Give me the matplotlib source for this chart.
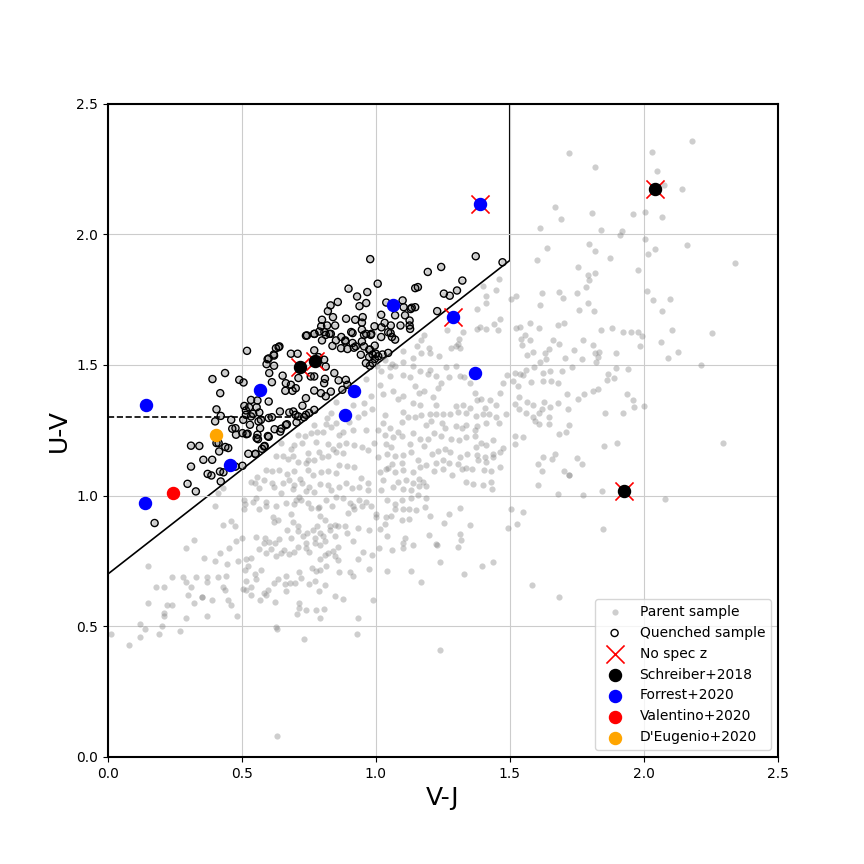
import numpy as np
import matplotlib
matplotlib.use("Agg")
import matplotlib.pyplot as plt

# UVJ diagram: parent sample, quenched subset and literature objects

# parent-only galaxies (V-J, U-V), region by region
parent_low_left = [
    (0.43, 1.03), (0.41, 1.01), (0.40, 0.96),
    (1.10, 0.82), (1.14, 0.81), (1.23, 0.81), (0.32, 0.83), (0.29, 0.80),
    (0.36, 0.76), (0.40, 0.75), (1.01, 0.80), (1.04, 0.71), (1.06, 0.79), (1.10, 0.80), (1.13, 0.71),
    (1.17, 0.67),
    (0.24, 0.69), (0.28, 0.69), (0.29, 0.67), (0.33, 0.69), (0.37, 0.69), (0.37, 0.67), (0.41, 0.69),
    (0.21, 0.65), (0.31, 0.65),
    (0.15, 0.73), (0.18, 0.65), (0.15, 0.59), (0.22, 0.58), (0.24, 0.58), (0.21, 0.55), (0.21, 0.54),
    (0.29, 0.53), (0.30, 0.62), (0.32, 0.59), (0.35, 0.61), (0.35, 0.61), (0.37, 0.54), (0.39, 0.60),
    (0.12, 0.51), (0.12, 0.46), (0.14, 0.49), (0.19, 0.47), (0.20, 0.50), (0.27, 0.48), (0.08, 0.43),
    (0.01, 0.47), (0.63, 0.49), (0.73, 0.45), (0.93, 0.47), (1.24, 0.41), (0.63, 0.08),
]

parent_box_a = [
    (0.851, 1.36), (0.913, 1.347), (0.956, 1.353), (0.832, 1.315), (0.816, 1.296), (0.77, 1.27),
    (0.813, 1.274), (0.832, 1.264), (0.853, 1.279), (0.9, 1.283), (0.932, 1.302), (0.956, 1.318),
    (0.779, 1.245), (0.801, 1.245), (0.863, 1.232), (0.876, 1.245), (0.913, 1.251), (0.963, 1.251),
    (0.708, 1.232), (0.736, 1.228), (0.757, 1.238), (0.776, 1.206), (0.726, 1.203), (0.695, 1.194),
    (0.683, 1.177), (0.646, 1.2), (0.745, 1.162), (0.789, 1.168), (0.823, 1.198), (0.841, 1.177),
    (0.863, 1.194), (0.888, 1.2), (0.919, 1.194), (0.95, 1.187), (0.969, 1.175), (0.851, 1.168),
    (0.878, 1.162), (0.82, 1.152), (0.799, 1.146), (0.77, 1.136), (0.745, 1.136), (0.739, 1.124),
    (0.708, 1.13), (0.689, 1.152), (0.672, 1.139), (0.652, 1.152), (0.629, 1.152), (0.59, 1.098),
    (0.614, 1.095), (0.637, 1.098), (0.67, 1.083), (0.695, 1.095), (0.716, 1.062), (0.745, 1.098),
    (0.764, 1.079), (0.795, 1.092), (0.823, 1.095), (0.851, 1.085), (0.863, 1.117), (0.891, 1.113),
    (0.919, 1.111), (0.944, 1.066), (0.969, 1.047), (0.534, 1.053), (0.558, 1.072), (0.55, 1.049),
    (0.583, 1.06), (0.614, 1.049), (0.652, 1.047), (0.677, 1.06), (0.695, 1.041), (0.726, 1.049),
    (0.751, 1.031), (0.77, 1.015), (0.791, 1.044), (0.82, 1.041), (0.833, 1.022), (0.863, 1.032),
    (0.888, 1.047), (0.91, 1.028), (0.938, 1.032), (0.969, 1.022), (0.565, 1.028), (0.62, 1.032),
    (0.646, 1.011), (0.689, 1.024), (0.714, 0.996), (0.739, 1.019), (0.851, 0.993), (0.876, 0.99),
    (0.509, 0.983), (0.552, 0.99), (0.59, 0.977), (0.627, 0.96), (0.664, 0.973), (0.701, 0.983),
    (0.745, 0.97), (0.789, 0.958), (0.813, 0.983), (0.838, 0.96), (0.913, 0.96), (0.938, 0.983),
    (0.963, 0.977), (0.963, 1.446), (0.981, 1.38), (0.985, 1.331), (0.994, 1.20),
]

parent_box_b = [
    (0.51, 0.966), (0.541, 0.975), (0.591, 0.959), (0.563, 0.947), (0.506, 0.947), (0.616, 0.919),
    (0.635, 0.906), (0.618, 0.898), (0.684, 0.928), (0.69, 0.898), (0.709, 0.885), (0.693, 0.966),
    (0.721, 0.985), (0.759, 0.953), (0.784, 0.953), (0.792, 0.921), (0.78, 0.885), (0.812, 0.908),
    (0.827, 0.885), (0.846, 0.889), (0.858, 0.883), (0.896, 0.934), (0.904, 0.97), (0.92, 0.947),
    (0.949, 0.959), (0.983, 0.962), (1.0, 0.928), (0.883, 0.883), (0.892, 0.855), (0.914, 0.825),
    (0.933, 0.877), (0.83, 0.87), (0.846, 0.845), (0.802, 0.845), (0.765, 0.87), (0.79, 0.855),
    (0.771, 0.838), (0.743, 0.857), (0.728, 0.845), (0.709, 0.864), (0.74, 0.819), (0.684, 0.838),
    (0.668, 0.87), (0.64, 0.834), (0.622, 0.819), (0.601, 0.821), (0.581, 0.819), (0.553, 0.842),
    (0.587, 0.838), (0.501, 0.838), (0.479, 0.825), (0.452, 0.8), (0.473, 0.885), (0.46, 0.902),
    (0.429, 0.889), (0.417, 0.781), (0.444, 0.74), (0.485, 0.749), (0.516, 0.758), (0.535, 0.762),
    (0.522, 0.732), (0.51, 0.714), (0.563, 0.794), (0.609, 0.794), (0.591, 0.781), (0.628, 0.768),
    (0.647, 0.781), (0.657, 0.791), (0.675, 0.778), (0.693, 0.783), (0.709, 0.804), (0.738, 0.8),
    (0.75, 0.783), (0.771, 0.819), (0.79, 0.809), (0.812, 0.825), (0.821, 0.781), (0.84, 0.787),
    (0.858, 0.804), (0.846, 0.768), (0.812, 0.771), (0.79, 0.758), (0.762, 0.723), (0.792, 0.717),
    (0.777, 0.71), (0.815, 0.73), (0.858, 0.755), (0.862, 0.707), (0.902, 0.707), (0.914, 0.692),
    (0.933, 0.758), (0.951, 0.783), (0.986, 0.774), (0.976, 0.719), (0.991, 0.6), (0.879, 0.605),
    (0.846, 0.615), (0.812, 0.656), (0.771, 0.672), (0.786, 0.634), (0.752, 0.66), (0.721, 0.685),
    (0.713, 0.707), (0.7, 0.666), (0.665, 0.692), (0.66, 0.66), (0.68, 0.666), (0.665, 0.634),
    (0.634, 0.679), (0.618, 0.666), (0.597, 0.64), (0.581, 0.627), (0.572, 0.717), (0.553, 0.679),
    (0.547, 0.698), (0.535, 0.651), (0.514, 0.672), (0.516, 0.64), (0.504, 0.643), (0.535, 0.618),
    (0.566, 0.602), (0.591, 0.621), (0.622, 0.592), (0.705, 0.545), (0.713, 0.57), (0.713, 0.589),
    (0.738, 0.564), (0.777, 0.564), (0.808, 0.567), (0.79, 0.532), (0.481, 0.541), (0.46, 0.583),
    (0.448, 0.602), (0.435, 0.64), (0.429, 0.651), (0.441, 0.691), (0.933, 0.53), (0.626, 0.498),
]

parent_box_c = [
    (1.034, 1.308), (1.10, 1.32), (1.121, 1.299), (1.146, 1.301), (1.17, 1.308), (1.201, 1.311),
    (1.224, 1.314), (1.251, 1.314), (1.276, 1.311), (1.307, 1.32), (1.338, 1.317), (1.373, 1.304),
    (1.40, 1.311), (1.423, 1.314), (1.45, 1.301), (1.485, 1.311), (1.025, 1.278), (1.052, 1.257),
    (1.096, 1.282), (1.189, 1.269), (1.207, 1.286), (1.246, 1.276), (1.298, 1.265), (1.323, 1.26),
    (1.338, 1.269), (1.376, 1.265), (1.413, 1.276), (1.46, 1.278), (1.37, 1.25), (1.257, 1.257),
    (1.034, 1.231), (1.065, 1.225), (1.083, 1.244), (1.099, 1.227), (1.139, 1.24), (1.164, 1.218),
    (1.195, 1.218), (1.216, 1.24), (1.245, 1.227), (1.279, 1.218), (1.311, 1.212), (1.336, 1.225),
    (1.37, 1.227), (1.394, 1.202), (1.413, 1.193), (1.438, 1.214), (1.473, 1.184), (1.519, 1.227),
    (1.519, 1.199), (1.037, 1.199), (1.058, 1.186), (1.127, 1.199), (1.178, 1.189), (1.211, 1.161),
    (1.233, 1.171), (1.259, 1.18), (1.276, 1.167), (1.313, 1.148), (1.341, 1.158), (1.373, 1.186),
    (1.378, 1.154), (1.406, 1.148), (1.438, 1.161), (1.463, 1.167), (1.009, 1.25), (1.009, 1.148),
    (1.04, 1.161), (1.071, 1.151), (1.102, 1.154), (1.133, 1.167), (1.159, 1.138), (1.189, 1.116),
    (1.224, 1.123), (1.249, 1.135), (1.274, 1.123), (1.307, 1.12), (1.338, 1.107), (1.382, 1.135),
    (1.41, 1.129), (1.438, 1.148), (1.096, 1.125), (1.062, 1.12), (1.046, 1.107), (1.015, 1.091),
    (1.037, 1.10), (1.071, 1.091), (1.102, 1.097), (1.139, 1.091), (1.164, 1.11), (1.216, 1.094),
    (1.249, 1.10), (1.285, 1.078), (1.32, 1.10), (1.358, 1.10), (1.403, 1.097), (1.429, 1.094),
    (1.463, 1.11), (1.025, 1.059), (1.065, 1.033), (1.083, 1.052), (1.102, 1.027), (1.114, 1.059),
    (1.139, 1.048), (1.162, 1.065), (1.177, 1.052), (1.162, 1.036), (1.189, 1.036), (1.133, 1.02),
    (1.159, 1.001), (1.189, 0.992), (1.336, 1.052), (1.361, 1.043), (1.40, 1.04), (1.431, 1.052),
    (1.434, 1.027), (1.021, 1.02), (1.04, 0.985), (1.096, 0.985), (1.133, 0.989), (1.071, 0.969),
    (1.071, 0.95), (1.102, 0.95), (1.125, 0.95), (1.149, 0.946), (1.183, 0.957), (1.316, 0.954),
    (1.506, 0.95), (1.201, 0.921), (1.254, 0.895), (1.274, 0.929), (1.037, 0.918), (1.055, 0.921),
    (1.096, 0.906), (1.125, 0.912), (1.034, 0.89), (1.351, 0.886), (1.494, 0.877), (1.527, 0.89),
    (0.975, 0.87), (1.04, 0.844), (1.108, 0.839), (1.199, 0.848), (1.313, 0.854), (1.015, 0.874),
    (1.002, 0.918),
]

parent_mid = [
    # V-J 1.0-1.5, U-V 1.33-1.85
    (1.46, 1.829), (1.40, 1.801), (1.413, 1.765), (1.45, 1.785), (1.41, 1.737), (1.378, 1.714),
    (1.463, 1.676), (1.44, 1.657), (1.41, 1.638), (1.388, 1.645), (1.378, 1.638), (1.456, 1.635),
    (1.326, 1.625), (1.31, 1.60), (1.298, 1.571), (1.279, 1.565), (1.316, 1.565), (1.307, 1.582),
    (1.266, 1.635), (1.20, 1.565), (1.18, 1.616), (1.236, 1.533), (1.204, 1.546), (1.17, 1.546),
    (1.14, 1.527), (1.17, 1.597), (1.152, 1.574), (1.10, 1.552), (1.102, 1.51), (1.062, 1.505),
    (1.07, 1.497), (1.052, 1.492), (1.034, 1.52), (1.021, 1.476), (1.005, 1.497), (1.052, 1.457),
    (1.102, 1.463), (1.127, 1.454), (1.145, 1.418), (1.16, 1.393), (1.18, 1.40), (1.214, 1.377),
    (1.233, 1.412), (1.245, 1.431), (1.261, 1.492), (1.274, 1.454), (1.30, 1.495), (1.313, 1.457),
    (1.33, 1.454), (1.351, 1.431), (1.369, 1.393), (1.376, 1.367), (1.394, 1.37), (1.407, 1.335),
    (1.428, 1.367), (1.45, 1.348), (1.473, 1.431), (1.488, 1.463), (1.463, 1.393), (1.015, 1.425),
    (1.027, 1.39), (1.065, 1.40), (1.084, 1.37), (1.10, 1.38), (1.14, 1.355), (1.164, 1.348),
    (1.226, 1.348), (1.30, 1.342), (1.326, 1.348), (1.351, 1.335), (1.14, 1.495), (1.164, 1.476),
    (1.195, 1.467), (1.226, 1.457), (1.204, 1.482),
    # V-J 1.2-1.75, U-V 0.6-1.3 outside the dense box
    (1.551, 1.224), (1.596, 1.286), (1.61, 1.275), (1.648, 1.275), (1.683, 1.236), (1.71, 1.245),
    (1.72, 1.271), (1.623, 1.147), (1.605, 1.122), (1.658, 1.14), (1.668, 1.16), (1.621, 1.093),
    (1.701, 1.093), (1.72, 1.08), (1.605, 1.04), (1.68, 1.008), (1.306, 0.803), (1.318, 0.829),
    (1.241, 0.745), (1.328, 0.70), (1.396, 0.731), (1.437, 0.745), (1.549, 0.937), (1.582, 0.659),
    (1.685, 0.613), (1.223, 0.814),
]

parent_right = [
    (2.18, 2.357), (2.031, 2.315), (1.723, 2.311), (1.818, 2.258), (2.05, 2.242), (2.077, 2.187),
    (2.143, 2.173), (1.669, 2.104), (1.807, 2.081), (1.692, 2.058), (1.96, 2.079), (2.005, 2.085),
    (2.068, 2.066), (1.613, 2.024), (1.841, 2.015), (1.912, 1.998), (1.919, 2.013), (2.005, 1.982),
    (2.162, 1.959), (1.639, 1.947), (1.795, 1.964), (1.818, 1.936), (2.042, 1.942), (2.016, 1.923),
    (1.602, 1.901), (1.875, 1.909), (1.754, 1.875), (1.791, 1.843), (1.794, 1.827), (1.818, 1.851),
    (1.979, 1.864), (2.34, 1.89), (1.785, 1.80), (1.751, 1.776), (1.621, 1.775), (1.683, 1.778),
    (1.70, 1.757), (2.012, 1.783), (2.034, 1.747), (2.098, 1.752), (1.792, 1.737), (1.759, 1.711),
    (1.815, 1.706), (1.613, 1.728), (2.068, 1.708), (1.524, 1.764), (1.503, 1.753), (1.68, 1.654),
    (1.703, 1.66), (1.608, 1.641), (1.576, 1.66), (1.54, 1.645), (1.841, 1.635), (1.882, 1.641),
    (1.922, 1.626), (1.953, 1.626), (1.978, 1.628), (1.994, 1.61), (2.066, 1.588), (2.105, 1.632),
    (2.255, 1.622), (2.127, 1.55), (2.09, 1.526), (1.986, 1.571), (1.556, 1.613), (1.522, 1.641),
    (1.543, 1.60), (1.546, 1.577), (1.576, 1.594), (1.66, 1.594), (1.683, 1.581), (1.648, 1.562),
    (1.586, 1.55), (1.63, 1.544), (1.564, 1.537), (1.613, 1.51), (1.636, 1.523), (1.707, 1.526),
    (1.741, 1.556), (1.774, 1.595), (1.81, 1.575), (1.818, 1.544), (1.828, 1.531), (1.834, 1.55),
    (1.897, 1.544), (1.94, 1.484), (1.897, 1.488), (1.868, 1.467), (1.822, 1.511), (1.769, 1.523),
    (1.732, 1.492), (1.694, 1.476), (1.65, 1.476), (1.623, 1.468), (1.592, 1.492), (1.56, 1.48),
    (1.539, 1.464), (1.518, 1.469), (1.513, 1.44), (1.548, 1.461), (1.53, 1.421), (1.58, 1.434),
    (1.623, 1.438), (1.654, 1.44), (1.679, 1.43), (1.713, 1.389), (1.754, 1.371), (1.779, 1.389),
    (1.81, 1.402), (1.828, 1.409), (1.863, 1.443), (1.888, 1.45), (1.938, 1.389), (1.96, 1.364),
    (1.964, 1.339), (2.0, 1.341), (2.214, 1.498), (1.922, 1.318), (1.856, 1.318), (1.717, 1.331),
    (1.649, 1.339), (1.679, 1.355), (1.621, 1.332), (1.588, 1.345), (1.564, 1.358), (1.536, 1.377),
    (1.629, 1.358), (1.608, 1.315), (1.586, 1.30), (1.645, 1.30), (1.561, 1.315), (1.536, 1.332),
    (1.518, 1.351),
    (1.852, 1.191), (1.902, 1.20), (2.296, 1.203), (1.751, 1.143), (1.77, 1.12), (1.72, 1.078),
    (1.845, 1.016), (1.774, 1.002), (2.08, 0.986), (1.848, 0.872),
]

# quenched galaxies (also part of the parent sample)
quenched = [
    (0.519, 1.554), (0.39, 1.446), (0.437, 1.469), (0.419, 1.392), (0.49, 1.443), (0.506, 1.433),
    (0.596, 1.522), (0.627, 1.564), (0.64, 1.571), (0.62, 1.536), (0.602, 1.469), (0.592, 1.503),
    (0.62, 1.497), (0.652, 1.459), (0.612, 1.434), (0.683, 1.543), (0.708, 1.543), (0.739, 1.612),
    (0.77, 1.619), (0.77, 1.556), (0.799, 1.594), (0.807, 1.52), (0.786, 1.53), (0.813, 1.494),
    (0.757, 1.456), (0.77, 1.456), (0.711, 1.45), (0.683, 1.424), (0.662, 1.401), (0.689, 1.401),
    (0.701, 1.411), (0.664, 1.43), (0.77, 1.402), (0.739, 1.373), (0.795, 1.392), (0.813, 1.38),
    (0.807, 1.43), (0.81, 1.447), (0.845, 1.469), (0.861, 1.441), (0.832, 1.398), (0.875, 1.405),
    (0.894, 1.424), (0.888, 1.443), (0.851, 1.594), (0.832, 1.619), (0.913, 1.622), (0.913, 1.584),
    (0.948, 1.59), (0.956, 1.615), (0.981, 1.615), (0.944, 1.539), (0.975, 1.53), (0.988, 1.507),
    (0.963, 1.507), (1.0, 1.543), (0.925, 1.571), (0.894, 1.561), (0.87, 1.564), (0.886, 1.59),
    (0.813, 1.615), (0.838, 1.573), (0.789, 1.628), (0.956, 1.571), (0.975, 1.558),
    (0.558, 1.364), (0.6, 1.36), (0.527, 1.338), (0.509, 1.343), (0.534, 1.366), (0.515, 1.326),
    (0.505, 1.29), (0.515, 1.309), (0.534, 1.303), (0.542, 1.313), (0.555, 1.338), (0.565, 1.318),
    (0.571, 1.29), (0.6, 1.297), (0.612, 1.3), (0.642, 1.322), (0.677, 1.318), (0.692, 1.322),
    (0.7, 1.309), (0.711, 1.303), (0.726, 1.344), (0.704, 1.28), (0.739, 1.309), (0.77, 1.328),
    (0.751, 1.316), (0.732, 1.3), (0.405, 1.33), (0.421, 1.305), (0.4, 1.284), (0.46, 1.29),
    (0.476, 1.258), (0.464, 1.256), (0.502, 1.239), (0.521, 1.237), (0.53, 1.271), (0.562, 1.284),
    (0.568, 1.258), (0.558, 1.233), (0.555, 1.22), (0.597, 1.228), (0.622, 1.254), (0.647, 1.256),
    (0.664, 1.27), (0.668, 1.273), (0.583, 1.188), (0.575, 1.179), (0.55, 1.16), (0.524, 1.16),
    (0.502, 1.114), (0.476, 1.111), (0.449, 1.182), (0.438, 1.186), (0.413, 1.201), (0.405, 1.201),
    (0.415, 1.169), (0.389, 1.137), (0.356, 1.137), (0.341, 1.19), (0.31, 1.191), (0.31, 1.111),
    (0.372, 1.083), (0.386, 1.077), (0.418, 1.092), (0.431, 1.089), (0.421, 1.054), (0.297, 1.045),
    (0.328, 1.016), (0.478, 1.233), (0.517, 1.235), (0.56, 1.216), (0.6, 1.225), (0.585, 1.19),
    (0.551, 1.159), (0.643, 1.245), (0.174, 0.895),
    (0.979, 1.905), (0.898, 1.792), (0.968, 1.779), (1.007, 1.811), (0.93, 1.762), (0.964, 1.737),
    (0.939, 1.725), (0.858, 1.741), (0.831, 1.728), (0.821, 1.706), (0.84, 1.683), (0.818, 1.651),
    (0.796, 1.648), (0.848, 1.651), (0.808, 1.626), (0.889, 1.677), (0.923, 1.673), (0.951, 1.683),
    (0.908, 1.626), (0.886, 1.594), (0.918, 1.566), (0.948, 1.662), (0.948, 1.635), (0.995, 1.648),
    (0.983, 1.619), (1.02, 1.692), (1.039, 1.739), (1.1, 1.747), (1.104, 1.721), (1.134, 1.719),
    (1.147, 1.721), (1.072, 1.69), (1.109, 1.69), (1.126, 1.67), (1.126, 1.651), (1.092, 1.651),
    (1.055, 1.622), (1.06, 1.607), (1.02, 1.607), (0.964, 1.619), (1.194, 1.856), (1.147, 1.794),
    (1.157, 1.798), (1.244, 1.875), (1.229, 1.706), (0.771, 1.619), (0.799, 1.673), (0.827, 1.619),
    (0.871, 1.607), (0.6, 1.525), (0.637, 1.568), (0.619, 1.54), (0.743, 1.613),
    (1.373, 1.916), (1.473, 1.893), (1.323, 1.823), (1.303, 1.785), (1.276, 1.765), (1.254, 1.773),
    (1.13, 1.714), (1.128, 1.638), (1.056, 1.651), (1.033, 1.661), (1.021, 1.644), (1.046, 1.625),
    (1.072, 1.597), (0.996, 1.574), (0.988, 1.54), (1.009, 1.533), (1.025, 1.54), (1.046, 1.546),
    (0.978, 1.559), (0.996, 1.523), (0.978, 1.497),
]

# literature objects
schreiber_vj = [0.715, 0.771, 2.042, 1.927]
schreiber_uv = [1.492, 1.517, 2.173, 1.018]
forrest_vj = [1.389, 1.289, 1.369, 1.063, 0.567, 0.918, 0.884, 0.143, 0.456, 0.139]
forrest_uv = [2.116, 1.683, 1.470, 1.729, 1.405, 1.401, 1.308, 1.346, 1.118, 0.972]
valentino_vj = [0.244]
valentino_uv = [1.011]
deugenio_vj = [0.404]
deugenio_uv = [1.231]
nospecz_vj = [0.715, 0.771, 2.042, 1.927, 1.389, 1.289]
nospecz_uv = [1.492, 1.517, 2.173, 1.018, 2.116, 1.683]

# quiescent selection box
box_vj = [0.0, 1.5, 1.5]
box_uv = [0.7, 1.9, 2.5]
dash_vj = [0.0, 0.75]
dash_uv = [1.3, 1.3]

parent = (parent_low_left + parent_box_a + parent_box_b + parent_box_c
          + parent_mid + parent_right + quenched)
p_vj, p_uv = np.array(parent).T
q_vj, q_uv = np.array(quenched).T

fig = plt.figure(figsize=(8.64, 8.64), dpi=100)
ax = fig.add_axes([0.125, 0.124, 0.775, 0.756])

ax.grid(color="#cccccc", lw=0.8, zorder=0)
ax.plot(box_vj, box_uv, color="black", lw=1.2, zorder=1)
ax.plot(dash_vj, dash_uv, color="black", lw=1.2, ls="--", zorder=1)

ax.scatter(p_vj, p_uv, s=20, color="grey", alpha=0.38, lw=0, label="Parent sample", zorder=2)
ax.scatter(q_vj, q_uv, s=26, facecolors="none", edgecolors="black", lw=1.0,
           label="Quenched sample", zorder=3)
ax.scatter(nospecz_vj, nospecz_uv, s=170, marker="x", color="red", lw=1.2,
           label="No spec z", zorder=4)
ax.scatter(schreiber_vj, schreiber_uv, s=75, color="black", label="Schreiber+2018", zorder=5)
ax.scatter(forrest_vj, forrest_uv, s=75, color="blue", label="Forrest+2020", zorder=5)
ax.scatter(valentino_vj, valentino_uv, s=75, color="red", label="Valentino+2020", zorder=5)
ax.scatter(deugenio_vj, deugenio_uv, s=75, color="orange", label="D'Eugenio+2020", zorder=5)

ax.set_xlim(0, 2.5)
ax.set_ylim(0, 2.5)
ax.set_xticks(np.arange(0, 2.51, 0.5))
ax.set_yticks(np.arange(0, 2.51, 0.5))
ax.set_xlabel("V-J", fontsize=18)
ax.set_ylabel("U-V", fontsize=18)
for s in ax.spines.values():
    s.set_linewidth(1.5)
ax.legend(loc="lower right", fontsize=10)

fig.savefig("out.png", dpi=100)
